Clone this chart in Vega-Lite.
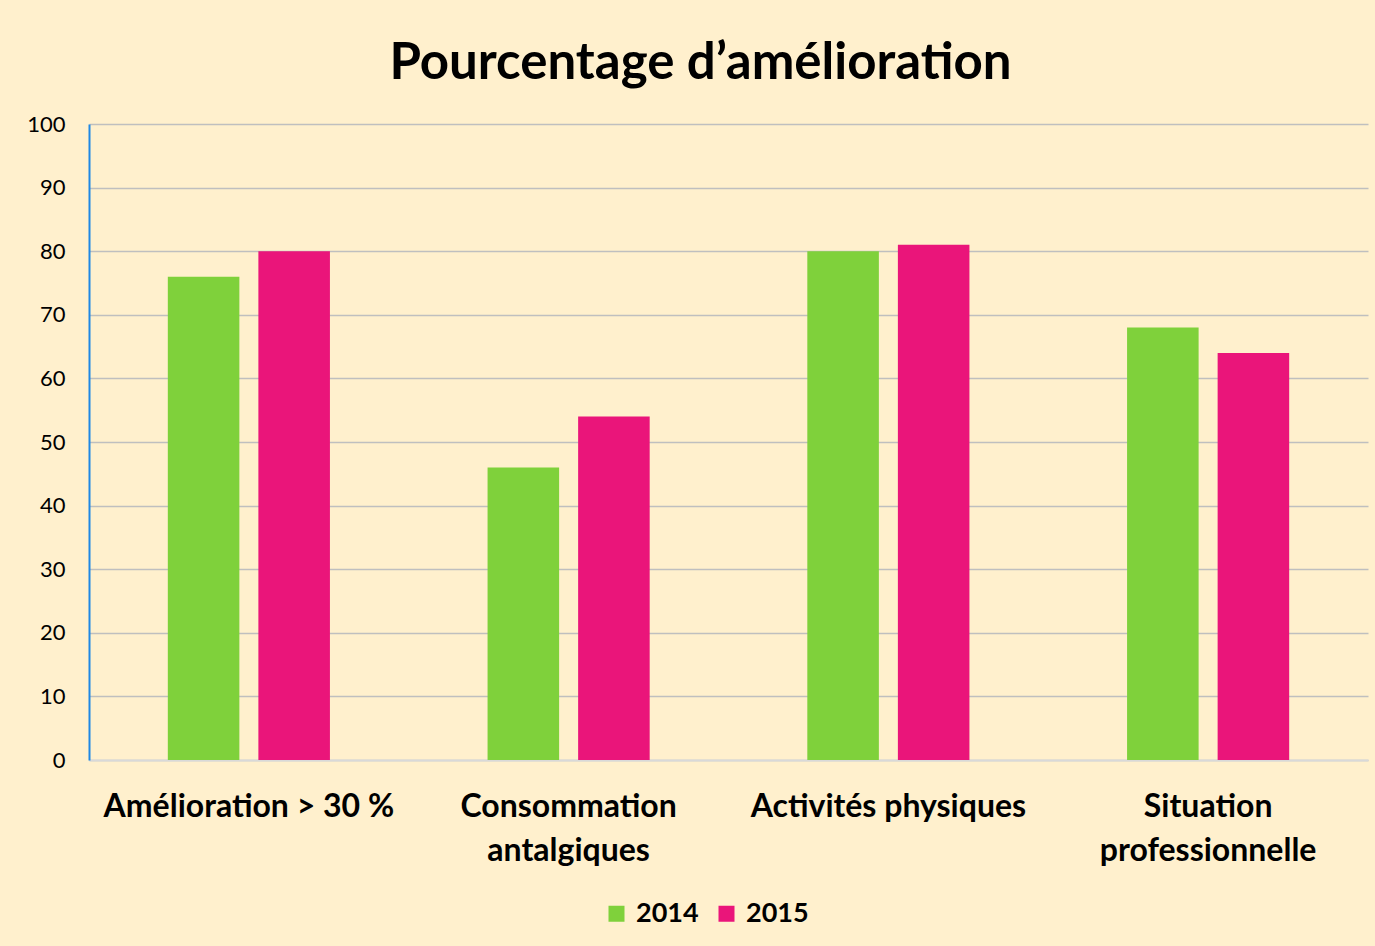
{
  "$schema": "https://vega.github.io/schema/vega-lite/v6.json",
  "autosize": "none",
  "width": 1279,
  "height": 636,
  "padding": {"left": 89, "top": 124, "right": 7, "bottom": 186},
  "background": "#FFF0CD",
  "title": {
    "text": "Pourcentage d’amélioration",
    "font": "Lato",
    "fontSize": 51,
    "fontWeight": "bold",
    "color": "#000000",
    "anchor": "middle",
    "dx": -28,
    "offset": 23
  },
  "data": {
    "values": [
      {"categorie": "Amélioration > 30 %", "annee": "2014", "valeur": 76},
      {"categorie": "Amélioration > 30 %", "annee": "2015", "valeur": 80},
      {"categorie": "Consommation|antalgiques", "annee": "2014", "valeur": 46},
      {"categorie": "Consommation|antalgiques", "annee": "2015", "valeur": 54},
      {"categorie": "Activités physiques", "annee": "2014", "valeur": 80},
      {"categorie": "Activités physiques", "annee": "2015", "valeur": 81},
      {"categorie": "Situation|professionnelle", "annee": "2014", "valeur": 68},
      {"categorie": "Situation|professionnelle", "annee": "2015", "valeur": 64}
    ]
  },
  "mark": {"type": "bar"},
  "encoding": {
    "x": {
      "field": "categorie",
      "type": "nominal",
      "sort": null,
      "scale": {"paddingInner": 0.493, "paddingOuter": 0.2465},
      "axis": {
        "title": null,
        "labelAngle": 0,
        "labelExpr": "split(datum.label, '|')",
        "labelFont": "Lato",
        "labelFontSize": 32,
        "labelFontWeight": "bold",
        "labelColor": "#000000",
        "labelLineHeight": 44,
        "labelPadding": 31,
        "labelLimit": 0,
        "labelOverlap": false,
        "ticks": false,
        "domainColor": "#D9D9D9",
        "domainWidth": 2,
        "grid": false
      }
    },
    "xOffset": {
      "field": "annee",
      "type": "nominal",
      "scale": {"paddingInner": 0.21, "paddingOuter": 0}
    },
    "y": {
      "field": "valeur",
      "type": "quantitative",
      "scale": {"domain": [0, 100], "nice": false},
      "axis": {
        "title": null,
        "values": [0, 10, 20, 30, 40, 50, 60, 70, 80, 90, 100],
        "labelFont": "Lato",
        "labelFontSize": 22,
        "labelColor": "#000000",
        "labelPadding": 24,
        "ticks": false,
        "domainColor": "#1E88E5",
        "domainWidth": 2,
        "gridColor": "#BFBFBF",
        "gridWidth": 1.5
      }
    },
    "color": {
      "field": "annee",
      "type": "nominal",
      "scale": {"domain": ["2014", "2015"], "range": ["#7FD13B", "#EA157A"]},
      "legend": {
        "title": null,
        "orient": "none",
        "direction": "horizontal",
        "legendX": 514,
        "legendY": 776,
        "symbolType": "square",
        "symbolSize": 256,
        "symbolStrokeWidth": 0,
        "labelFont": "Lato",
        "labelFontSize": 27,
        "labelFontWeight": "bold",
        "labelColor": "#000000",
        "labelOffset": 6,
        "columnPadding": 14
      }
    }
  },
  "config": {
    "view": {"stroke": null}
  }
}
